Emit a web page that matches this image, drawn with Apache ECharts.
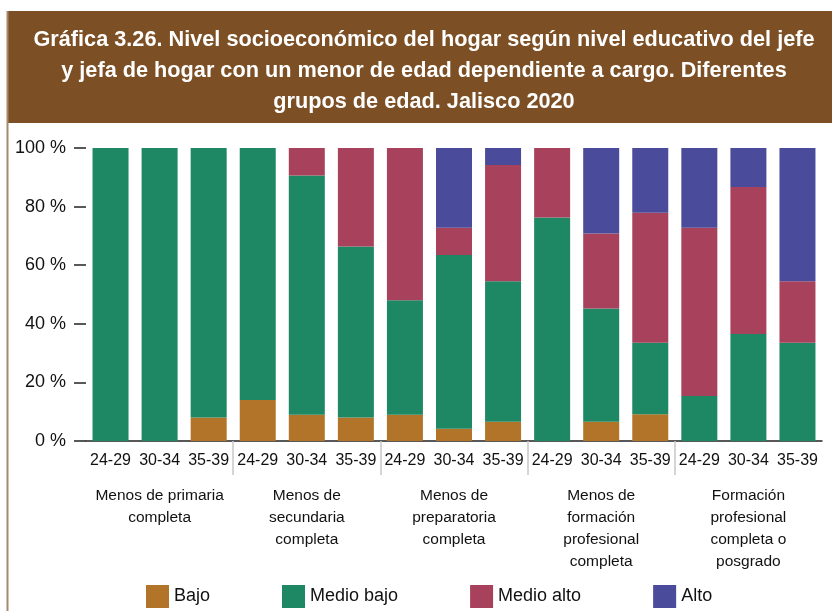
<!DOCTYPE html>
<html>
<head>
<meta charset="utf-8">
<script src="https://cdn.jsdelivr.net/npm/echarts@6/dist/echarts.min.js"></script>
<style>
html,body{margin:0;padding:0;background:#fff;}
#chart{width:832px;height:611px;}
</style>
</head>
<body>
<div id="chart"></div>
<script>
var ageGroups = ['24-29','30-34','35-39','24-29','30-34','35-39','24-29','30-34','35-39','24-29','30-34','35-39','24-29','30-34','35-39'];
var eduGroups = ['Menos de primaria\ncompleta','Menos de\nsecundaria\ncompleta','Menos de\npreparatoria\ncompleta','Menos de\nformación\nprofesional\ncompleta','Formación\nprofesional\ncompleta o\nposgrado'];
var seriesNames = ['Bajo','Medio bajo','Medio alto','Alto'];
var bajo      = [0, 0, 8, 14, 9, 8, 9, 4.2, 6.6, 0, 6.6, 9.1, 0, 0, 0];
var medioBajo = [100, 100, 92, 86, 81.6, 58.4, 39, 59.3, 47.9, 76.3, 38.6, 24.4, 15.4, 36.5, 33.5];
var medioAlto = [0, 0, 0, 0, 9.4, 33.6, 52, 9.3, 39.7, 23.7, 25.6, 44.4, 57.4, 50.2, 21.0];
var alto      = [0, 0, 0, 0, 0, 0, 0, 27.2, 5.8, 0, 29.2, 22.1, 27.2, 13.3, 45.5];
var yTicks = [0, 20, 40, 60, 80, 100];

var FONT = '"Liberation Sans", Arial, Helvetica, sans-serif';
var colors = ['#B27428', '#1E8764', '#A8425C', '#4A4B9A'];
var values = [bajo, medioBajo, medioAlto, alto];

var plotLeft = 86, plotRight = 10, W = 832;
var band = (W - plotLeft - plotRight) / ageGroups.length;

var chart = echarts.init(document.getElementById('chart'), null, {renderer: 'canvas'});
var option = {
  animation: false,
  color: colors,
  textStyle: {fontFamily: FONT},
  graphic: [
    {type: 'rect', shape: {x: 8, y: 11, width: 824, height: 112}, style: {fill: '#7C4F25'}, z: -1},
    {type: 'line', shape: {x1: 7.5, y1: 11, x2: 7.5, y2: 611}, style: {stroke: '#A68A6B', lineWidth: 2}, z: -1}
  ],
  title: {
    text: 'Gráfica 3.26. Nivel socioeconómico del hogar según nivel educativo del jefe\ny jefa de hogar con un menor de edad dependiente a cargo. Diferentes\ngrupos de edad. Jalisco 2020',
    left: 424,
    top: 25,
    padding: 0,
    textAlign: 'center',
    textStyle: {color: '#ffffff', fontWeight: 'bold', fontSize: 21.7, lineHeight: 31, fontFamily: FONT}
  },
  legend: {
    data: seriesNames,
    left: 141,
    top: 580,
    itemWidth: 23,
    itemHeight: 23,
    itemGap: 72,
    icon: 'rect',
    textStyle: {fontSize: 18, color: '#111', fontFamily: FONT}
  },
  grid: [
    {left: plotLeft, right: plotRight, top: 148, bottom: 170, containLabel: false},
    {left: plotLeft + 3 * band, right: W - (plotLeft + 12 * band), top: 440, height: 1, containLabel: false}
  ],
  xAxis: [
    {
      type: 'category',
      gridIndex: 0,
      data: ageGroups,
      position: 'bottom',
      axisLine: {show: true, lineStyle: {color: '#222', width: 1.5}},
      axisTick: {show: false},
      axisLabel: {interval: 0, margin: 12, fontSize: 16, color: '#111', fontFamily: FONT}
    },
    {
      type: 'category',
      gridIndex: 0,
      data: eduGroups,
      position: 'bottom',
      axisLine: {show: false},
      axisTick: {show: false},
      axisLabel: {interval: 0, margin: 44, fontSize: 15.5, lineHeight: 22, color: '#111', fontFamily: FONT}
    },
    {
      type: 'value',
      gridIndex: 1,
      min: 3,
      max: 12,
      interval: 3,
      position: 'bottom',
      axisLine: {show: false},
      axisTick: {show: true, length: 34, lineStyle: {color: '#c8c8c8', width: 1.5}},
      axisLabel: {show: false},
      splitLine: {show: false}
    }
  ],
  yAxis: [
    {
      type: 'value',
      gridIndex: 0,
      min: yTicks[0],
      max: yTicks[yTicks.length - 1],
      interval: 20,
      axisLine: {show: false},
      axisTick: {show: true, length: 12, lineStyle: {color: '#222', width: 1.5}},
      splitLine: {show: false},
      axisLabel: {margin: 20, fontSize: 18, color: '#111', fontFamily: FONT, formatter: '{value} %'}
    },
    {type: 'value', gridIndex: 1, show: false}
  ],
  series: seriesNames.map(function (name, k) {
    return {
      name: name,
      type: 'bar',
      stack: 'total',
      xAxisIndex: 0,
      yAxisIndex: 0,
      barWidth: 36,
      data: values[k],
      itemStyle: {color: colors[k]}
    };
  })
};
chart.setOption(option);
</script>
</body>
</html>
